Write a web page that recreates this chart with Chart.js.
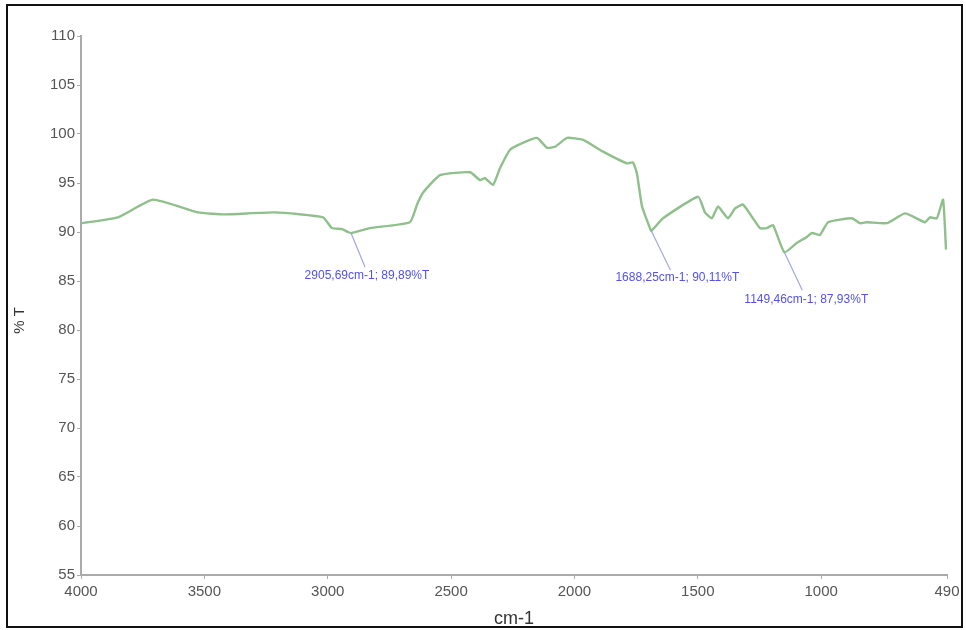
<!DOCTYPE html>
<html>
<head>
<meta charset="utf-8">
<script src="https://cdn.jsdelivr.net/npm/chart.js@4.4.1/dist/chart.umd.min.js"></script>
<style>
  html, body { margin: 0; padding: 0; background: #ffffff; }
  #wrap { position: relative; width: 966px; height: 630px; }
</style>
</head>
<body>
<div id="wrap"><canvas id="ir"></canvas></div>
<script>
// FTIR spectrum: wavenumber (cm-1) vs transmittance (%T)
const wavenumbers = [
  4000, 3850, 3708, 3526, 3416, 3214, 3019, 2983, 2942, 2918, 2905.69,
  2829, 2667, 2638, 2614, 2545, 2423, 2383, 2363, 2330, 2302, 2261,
  2209, 2152, 2111, 2079, 2030, 1965, 1884, 1787, 1763, 1747, 1726,
  1694, 1688.25, 1641, 1499, 1471, 1443, 1418, 1378, 1349, 1317, 1248,
  1220, 1195, 1149.46, 1098, 1058, 1037, 1005, 972, 875, 843, 814,
  733, 660, 579, 559, 531, 506, 494
];
const transmittance = [
  90.9, 91.5, 93.3, 92.0, 91.8, 92.0, 91.5, 90.4, 90.3, 90.0, 89.89,
  90.4, 91.0, 92.8, 94.0, 95.8, 96.1, 95.3, 95.5, 94.8, 96.5, 98.4,
  99.1, 99.6, 98.6, 98.7, 99.6, 99.4, 98.2, 97.0, 97.1, 96.0, 92.6,
  90.4, 90.11, 91.4, 93.6, 92.0, 91.4, 92.6, 91.4, 92.4, 92.8, 90.4,
  90.4, 90.7, 87.93, 88.9, 89.5, 89.9, 89.7, 91.0, 91.4, 90.9, 91.0,
  90.9, 91.9, 91.0, 91.5, 91.4, 93.3, 88.2
];

// labelled peaks
const peakWavenumbers = [2905.69, 1688.25, 1149.46];
const peakTransmittance = [89.89, 90.11, 87.93];
const peakLabels = ['2905,69cm-1; 89,89%T', '1688,25cm-1; 90,11%T', '1149,46cm-1; 87,93%T'];

const xTickValues = [4000, 3500, 3000, 2500, 2000, 1500, 1000, 490];
const yMin = 55, yMax = 110, yStep = 5;
const xTitle = 'cm-1';
const yTitle = '% T';

const spectrum = wavenumbers.map((w, i) => ({ x: w, y: transmittance[i] }));

// leader line end and label centre, relative to the peak point (px)
const labelOffsets = [
  { lx: 14, ly: 34, tx: 16, ty: 43 },
  { lx: 19, ly: 39, tx: 26, ty: 47 },
  { lx: 18, ly: 38, tx: 22, ty: 47 }
];

const peakLabelPlugin = {
  id: 'peakLabels',
  afterDatasetsDraw(chart) {
    const { ctx, scales: { x, y } } = chart;
    ctx.save();
    peakWavenumbers.forEach((w, i) => {
      const px = x.getPixelForValue(w);
      const py = y.getPixelForValue(peakTransmittance[i]);
      const o = labelOffsets[i];
      ctx.strokeStyle = 'rgba(160,160,228,0.95)';
      ctx.lineWidth = 1.2;
      ctx.beginPath();
      ctx.moveTo(px, py);
      ctx.lineTo(px + o.lx, py + o.ly);
      ctx.stroke();
      ctx.fillStyle = 'rgb(82,82,232)';
      ctx.font = '12px "Liberation Sans", Arial, sans-serif';
      ctx.textAlign = 'center';
      ctx.textBaseline = 'middle';
      ctx.fillText(peakLabels[i], px + o.tx, py + o.ty);
    });
    ctx.restore();
  }
};

const framePlugin = {
  id: 'frame',
  afterDraw(chart) {
    const { ctx, chartArea } = chart;
    ctx.save();
    // rotated y-axis title
    ctx.translate(20, (chartArea.top + chartArea.bottom) / 2 + 15);
    ctx.rotate(-Math.PI / 2);
    ctx.fillStyle = '#333';
    ctx.font = '15px "Liberation Sans", Arial, sans-serif';
    ctx.textAlign = 'center';
    ctx.textBaseline = 'middle';
    ctx.fillText(yTitle, 0, 0);
    ctx.restore();

    ctx.save();
    ctx.fillStyle = '#ffffff';
    ctx.fillRect(0, 628, 966, 2);
    ctx.strokeStyle = '#111';
    ctx.lineWidth = 2;
    ctx.strokeRect(7, 5, 955, 622);
    ctx.restore();
  }
};

new Chart(document.getElementById('ir'), {
  type: 'line',
  data: {
    datasets: [{
      data: spectrum,
      borderColor: 'rgb(143,192,140)',
      borderWidth: 2.4,
      pointRadius: 0,
      tension: 0.15,
      fill: false
    }]
  },
  options: {
    responsive: true,
    maintainAspectRatio: false,
    animation: false,
    events: [],
    layout: { padding: { left: 0, right: 19, top: 36, bottom: 0 } },
    plugins: { legend: { display: false }, tooltip: { enabled: false } },
    scales: {
      x: {
        type: 'linear',
        min: 490,
        max: 4000,
        reverse: true,
        afterBuildTicks(scale) { scale.ticks = xTickValues.map(v => ({ value: v })); },
        afterFit(scale) { scale.height = 55; },
        grid: { drawOnChartArea: false, drawTicks: true, tickLength: 4, tickColor: '#aaa', tickWidth: 1 },
        border: { display: true, color: '#aaa', width: 2 },
        ticks: {
          color: '#555',
          padding: 4,
          maxRotation: 0,
          autoSkip: false,
          font: { family: '"Liberation Sans", Arial, sans-serif', size: 15 },
          callback: v => String(v)
        },
        title: {
          display: true,
          text: xTitle,
          color: '#333',
          padding: { top: 0, bottom: 0 },
          font: { family: '"Liberation Sans", Arial, sans-serif', size: 18 }
        }
      },
      y: {
        min: yMin,
        max: yMax,
        afterFit(scale) { scale.width = 81; },
        grid: { drawOnChartArea: false, drawTicks: true, tickLength: 4, tickColor: '#aaa', tickWidth: 1 },
        border: { display: true, color: '#aaa', width: 2 },
        ticks: {
          stepSize: yStep,
          color: '#555',
          padding: 2,
          font: { family: '"Liberation Sans", Arial, sans-serif', size: 15 }
        }
      }
    }
  },
  plugins: [peakLabelPlugin, framePlugin]
});
</script>
</body>
</html>
